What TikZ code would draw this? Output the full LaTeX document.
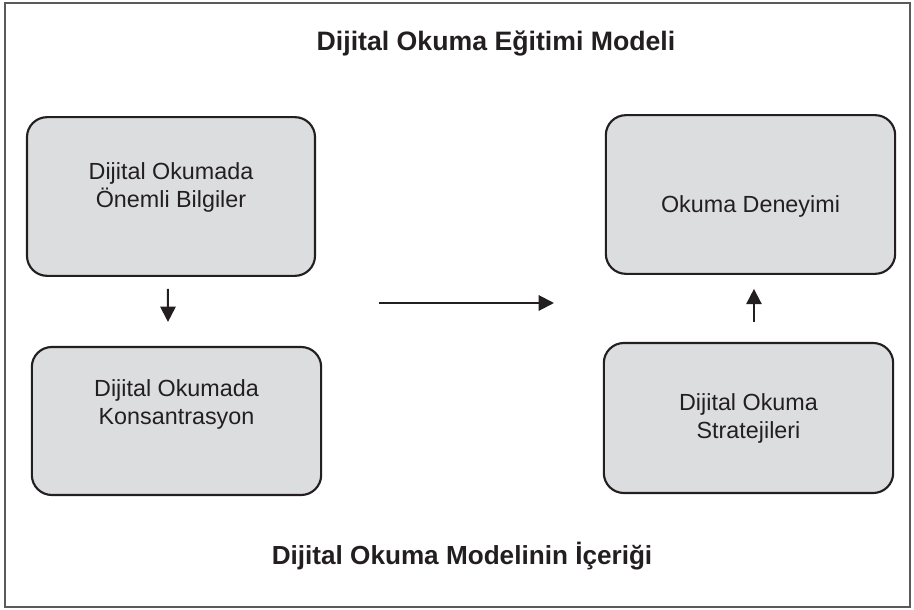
\documentclass[tikz,border=0pt]{standalone}
\usepackage{fontspec}
\setmainfont{Liberation Sans}
\usetikzlibrary{arrows.meta}
\definecolor{boxfill}{HTML}{DCDDDF}
\definecolor{framegray}{HTML}{5A5A5A}
\definecolor{ink}{HTML}{231F20}
\begin{document}
\begin{tikzpicture}[x=0.75pt,y=-0.75pt,
  card/.style={draw=ink, line width=1.6pt, fill=boxfill, rounded corners=15pt,
    align=center, text=ink, inner sep=0pt,
    font=\fontsize{17.5pt}{21pt}\selectfont},
  heading/.style={text=ink, font=\fontsize{19.6pt}{23pt}\selectfont\bfseries},
  flow/.style={ink, line width=1.5pt, -{Triangle[length=11.5pt,width=11.5pt]}}]
\useasboundingbox (0,0) rectangle (914,610);
\draw[framegray, line width=1.1pt] (5,3) rectangle (910,607);
\node[heading, font=\fontsize{20pt}{23pt}\selectfont\bfseries] (title) at (496,44) {Dijital Okuma Eğitimi Modeli};
\node[heading] (foot) at (462,556) {Dijital Okuma Modelinin İçeriği};
\node[card, minimum width=216pt, minimum height=119pt, text height=20pt] (b1) at (171,196.5) {Dijital Okumada\\Önemli Bilgiler};
\node[card, minimum width=217pt, minimum height=111pt] (b2) at (176.5,421) {Dijital Okumada\\Konsantrasyon\\[8pt]};
\node[card, minimum width=217pt, minimum height=119pt, text height=31pt] (b3) at (750.5,194.5) {Okuma Deneyimi};
\node[card, minimum width=217pt, minimum height=112.5pt] (b4) at (748.5,418) {Dijital Okuma\\Stratejileri};
\coordinate (hs) at (379,303);
\coordinate (he) at (554,303);
\draw[flow, shorten <=9pt, shorten >=18pt] ([xshift=-2.25pt]b1.south) -- ([xshift=-6.4pt]b2.north);
\draw[flow] (hs) -- (he);
\draw[flow, shorten <=15pt, shorten >=10.5pt] ([xshift=4.1pt]b4.north) -- ([xshift=2.6pt]b3.south);
\end{tikzpicture}
\end{document}
